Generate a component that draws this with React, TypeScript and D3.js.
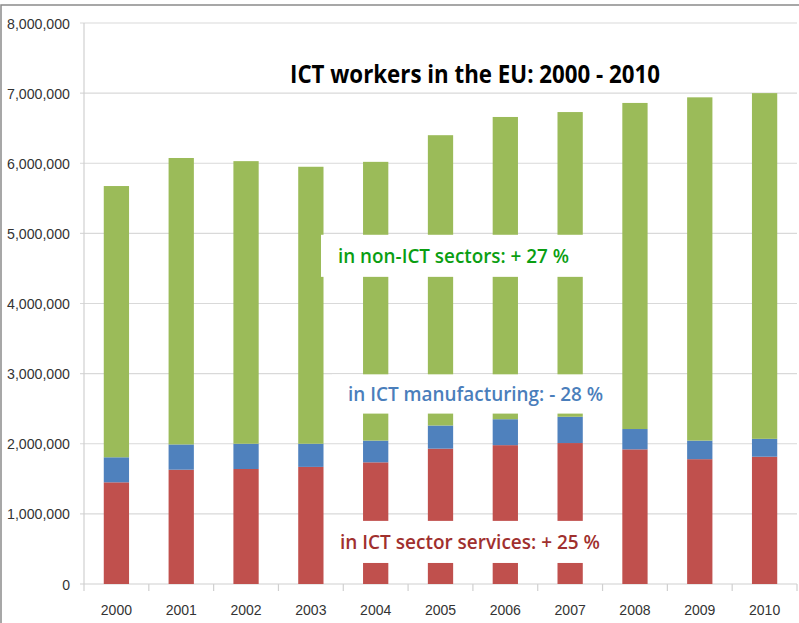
import React from "react";
import * as d3 from "d3";

const years = ["2000","2001","2002","2003","2004","2005","2006","2007","2008","2009","2010"];
const services = [1450000,1630000,1640000,1670000,1735000,1930000,1980000,2010000,1920000,1780000,1815000];
const manufacturing = [357000,360000,360000,330000,310000,330000,370000,375000,290000,265000,255000];
const nonICT = [3868000,4085000,4030000,3950000,3975000,4140000,4310000,4345000,4650000,4895000,4930000];
const yTicks = [0,1000000,2000000,3000000,4000000,5000000,6000000,7000000,8000000];
const seriesKeys = ["services","manufacturing","nonICT"];
const seriesColors = ["#C0504D","#4F81BD","#9BBB59"];
const title = "ICT workers in the EU: 2000 - 2010";
const notes = [
  { text: "in non-ICT sectors: + 27 %", color: "#0A9E12", lo: 4380000, hi: 4980000, x0: 321, x1: 605, tx: 338, tw: 231 },
  { text: "in ICT manufacturing: - 28 %", color: "#4A7EBB", lo: 2430000, hi: 2990000, x0: 332, x1: 610, tx: 348, tw: 255 },
  { text: "in ICT sector services: + 25 %", color: "#A0302E", lo: 300000, hi: 900000, x0: 333, x1: 605, tx: 340, tw: 260 },
];

function labelLen(s: string) {
  let w = 0;
  for (const c of s) w += c === "," ? 4.2 : 7.8;
  return w;
}

export default function App() {
  const W = 799, H = 623;
  const left = 84, right = 797, top = 23, bottom = 584;
  const x = d3.scaleBand().domain(years).range([left, right]).paddingInner(0.61).paddingOuter(0.305);
  const y = d3.scaleLinear().domain([0, 8000000]).range([bottom, top]);
  const rows = years.map((yr, i) => ({ year: yr, services: services[i], manufacturing: manufacturing[i], nonICT: nonICT[i] }));
  const stacked = d3.stack().keys(seriesKeys)(rows as any);
  const fmt = d3.format(",");
  const step = (right - left) / years.length;
  const font = "'Open Sans', 'Liberation Sans', sans-serif";
  const axisFont = "'Liberation Sans', Arial, sans-serif";
  return (
    <svg width={W} height={H} style={{ position: "absolute", left: 0, top: 0, background: "#fff" }}>
      <rect x={1} y={5} width={W + 10} height={H + 10} fill="#fff" stroke="#8a8a8a" strokeWidth={1.5} />
      {yTicks.map((t) => (
        <g key={t}>
          {t > 0 && <line x1={left - 4} x2={right} y1={y(t)} y2={y(t)} stroke="#d9d9d9" strokeWidth={1.2} />}
          <text x={70} y={y(t) + 5.5} textAnchor="end" fontSize={15} fill="#333" fontFamily={axisFont} textLength={labelLen(fmt(t))} lengthAdjust="spacingAndGlyphs">{fmt(t)}</text>
        </g>
      ))}
      <line x1={left} x2={left} y1={top} y2={bottom} stroke="#d0d0d0" strokeWidth={1.2} />
      <line x1={left - 4} x2={right} y1={bottom} y2={bottom} stroke="#d0d0d0" strokeWidth={1.2} />
      {d3.range(years.length + 1).map((i) => (
        <line key={i} x1={left + i * step} x2={left + i * step} y1={bottom} y2={bottom + 7} stroke="#d0d0d0" strokeWidth={1.2} />
      ))}
      {stacked.map((s, si) => (
        <g key={si} fill={seriesColors[si]}>
          {s.map((d: any, i) => (
            <rect key={i} x={x(years[i])} width={x.bandwidth()} y={y(d[1])} height={y(d[0]) - y(d[1])} />
          ))}
        </g>
      ))}
      {years.map((yr) => (
        <text key={yr} x={(x(yr) as number) + x.bandwidth() / 2} y={614.5} textAnchor="middle" fontSize={15} fill="#333" fontFamily={axisFont} textLength={labelLen(yr)} lengthAdjust="spacingAndGlyphs">{yr}</text>
      ))}
      {notes.map((n, i) => (
        <g key={i}>
          <rect x={n.x0} width={n.x1 - n.x0} y={y(n.hi)} height={y(n.lo) - y(n.hi)} fill="#fff" />
          <text x={n.tx} y={(y(n.hi) + y(n.lo)) / 2 + 7} fontSize={20} fontWeight={600} fill={n.color} fontFamily={font} textLength={n.tw} lengthAdjust="spacingAndGlyphs">{n.text}</text>
        </g>
      ))}
      <text x={290} y={83} fontSize={25} fontWeight={700} fill="#000" fontFamily={font} textLength={370} lengthAdjust="spacingAndGlyphs">{title}</text>
    </svg>
  );
}
